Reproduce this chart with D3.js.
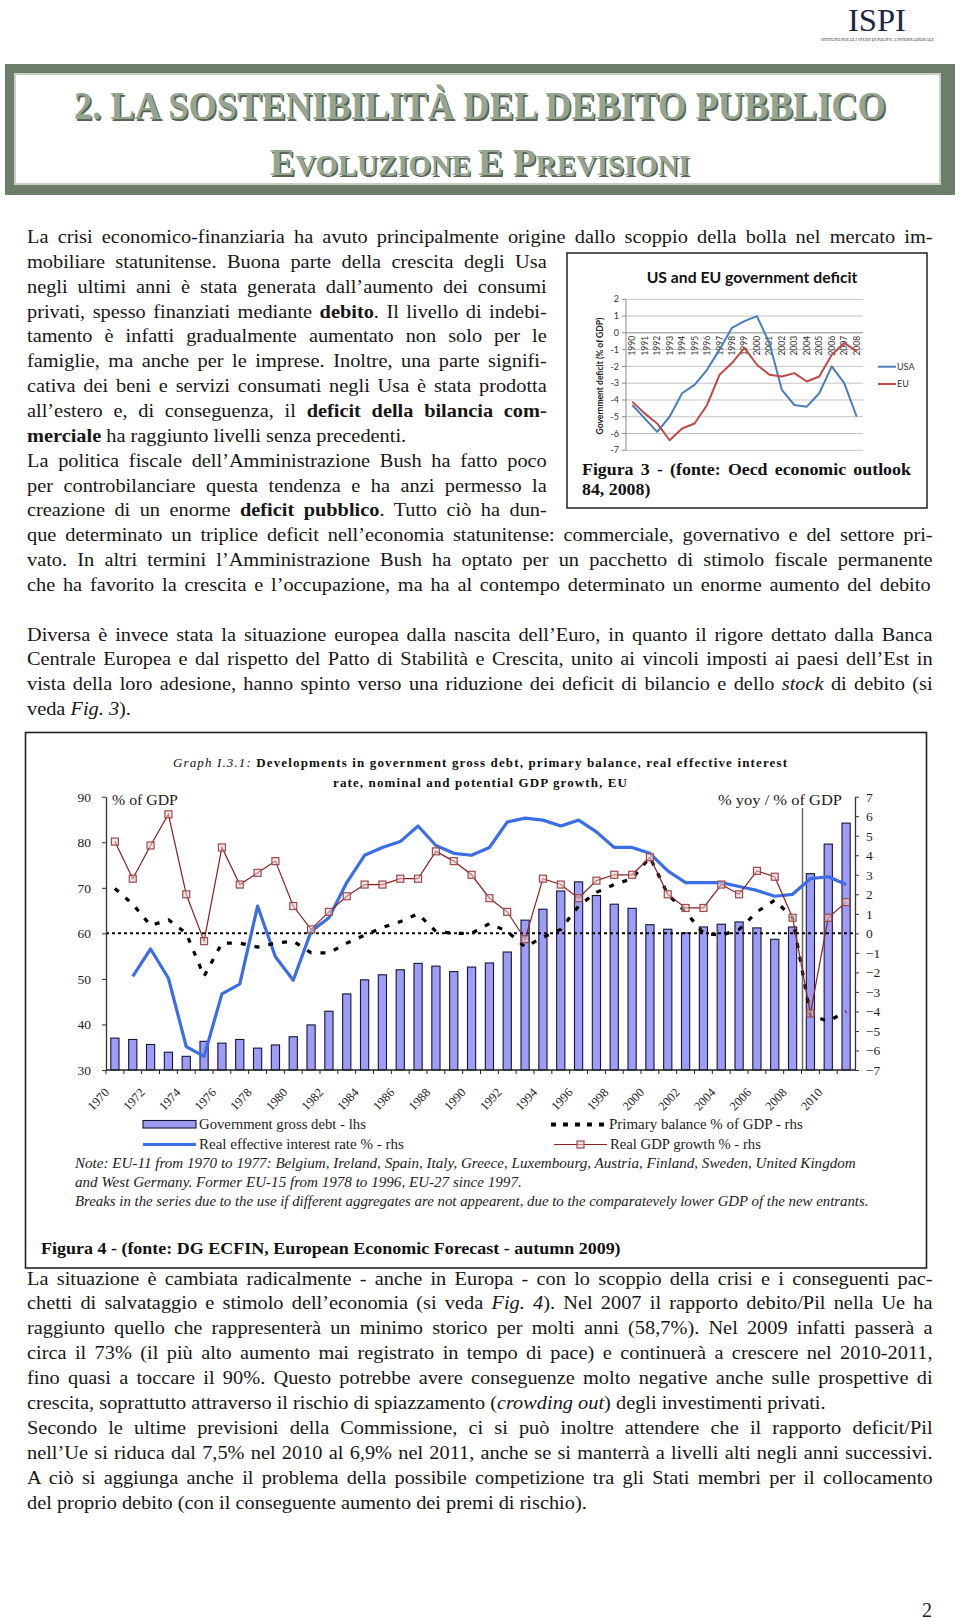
<!DOCTYPE html>
<html><head><meta charset="utf-8">
<script src="https://cdn.jsdelivr.net/npm/d3@7"></script>
<style>
html,body{margin:0;padding:0;background:#fff;}
svg{display:block;}
</style></head><body>
<svg id="page" width="960" height="1620"></svg>
<script>
// ================= Figure 3 data (US and EU government deficit) =================
const fig3Years = ["1990","1991","1992","1993","1994","1995","1996","1997","1998","1999","2000","2001","2002","2003","2004","2005","2006","2007","2008"];
const fig3USA = [-4.3,-5.1,-5.9,-5.0,-3.6,-3.1,-2.2,-1.0,0.3,0.7,1.0,-0.6,-3.4,-4.3,-4.4,-3.6,-2.0,-3.0,-5.0];
const fig3EU  = [-4.1,-4.8,-5.4,-6.4,-5.7,-5.4,-4.3,-2.5,-1.8,-0.9,-1.9,-2.5,-2.6,-2.4,-2.9,-2.6,-1.3,-0.6,-1.1];
const fig3YTicks = [2,1,0,-1,-2,-3,-4,-5,-6,-7];
const fig3SeriesNames = ["USA","EU"];

// ================= Figure 4 data (EU debt, primary balance, interest, growth) =================
const fig4Years = [1970,1971,1972,1973,1974,1975,1976,1977,1978,1979,1980,1981,1982,1983,1984,1985,1986,1987,1988,1989,1990,1991,1992,1993,1994,1995,1996,1997,1998,1999,2000,2001,2002,2003,2004,2005,2006,2007,2008,2009,2010,2011];
const fig4Debt = [37.0,36.7,35.6,33.9,33.0,36.3,35.9,36.7,34.8,35.5,37.3,39.9,42.9,46.7,49.8,50.9,52.0,53.4,52.8,51.6,52.6,53.5,55.9,62.9,65.3,69.3,71.3,68.3,66.4,65.5,61.9,60.9,60.1,61.4,62.0,62.5,61.2,58.7,61.4,73.1,79.6,84.2];
const fig4Interest = [null,-2.2,-0.8,-2.3,-5.8,-6.3,-3.1,-2.6,1.4,-1.2,-2.4,0.1,0.8,2.6,4.0,4.4,4.7,5.5,4.5,4.1,4.0,4.4,5.7,5.9,5.8,5.5,5.8,5.2,4.4,4.4,4.1,3.2,2.6,2.6,2.6,2.4,2.2,1.9,2.0,2.8,2.9,2.5];
const fig4Primary = [2.3,1.5,0.4,0.7,0.0,-2.2,-0.5,-0.5,-0.7,-0.5,-0.4,-1.0,-1.0,-0.5,-0.1,0.3,0.6,1.0,0.1,0.0,0.0,0.5,0.1,-0.7,-0.2,0.2,1.4,2.1,2.5,2.8,3.9,2.0,1.1,0.0,-0.1,0.2,1.1,1.7,0.8,-4.2,-4.5,-4.0];
const fig4Growth = [4.7,2.8,4.5,6.1,2.0,-0.4,4.4,2.5,3.1,3.7,1.4,0.2,1.1,1.9,2.5,2.5,2.8,2.8,4.2,3.7,3.0,1.8,1.1,-0.3,2.8,2.5,1.8,2.7,3.0,3.0,3.9,2.0,1.3,1.3,2.5,2.0,3.2,2.9,0.8,-4.1,0.8,1.6];
const fig4LeftTicks = [30,40,50,60,70,80,90];
const fig4RightTicks = [-7,-6,-5,-4,-3,-2,-1,0,1,2,3,4,5,6,7];
const fig4XLabels = [1970,1972,1974,1976,1978,1980,1982,1984,1986,1988,1990,1992,1994,1996,1998,2000,2002,2004,2006,2008,2010];
const fig4ForecastStart = 2009;
const fig4Legend = ["Government gross debt - lhs","Primary balance % of GDP - rhs","Real effective interest rate % - rhs","Real GDP growth % - rhs"];

// ================= Body text =================
const textTop = [
 [["La crisi economico-finanziaria ha avuto principalmente origine dallo scoppio della bolla nel mercato im-",""]],
 [["mobiliare statunitense. Buona parte della crescita degli Usa",""]],
 [["negli ultimi anni è stata generata dall’aumento dei consumi",""]],
 [["privati, spesso finanziati mediante ",""],["debito","b"],[". Il livello di indebi-",""]],
 [["tamento è infatti gradualmente aumentato non solo per le",""]],
 [["famiglie, ma anche per le imprese. Inoltre, una parte signifi-",""]],
 [["cativa dei beni e servizi consumati negli Usa è stata prodotta",""]],
 [["all’estero e, di conseguenza, il ",""],["deficit della bilancia com-","b"]],
 [["merciale","b"],[" ha raggiunto livelli senza precedenti.",""]],
 [["La politica fiscale dell’Amministrazione Bush ha fatto poco",""]],
 [["per controbilanciare questa tendenza e ha anzi permesso la",""]],
 [["creazione di un enorme ",""],["deficit pubblico","b"],[". Tutto ciò ha dun-",""]],
 [["que determinato un triplice deficit nell’economia statunitense: commerciale, governativo e del settore pri-",""]],
 [["vato. In altri termini l’Amministrazione Bush ha optato per un pacchetto di stimolo fiscale permanente",""]],
 [["che ha favorito la crescita e l’occupazione, ma ha al contempo determinato un enorme aumento del debito",""]],
 null,
 [["Diversa è invece stata la situazione europea dalla nascita dell’Euro, in quanto il rigore dettato dalla Banca",""]],
 [["Centrale Europea e dal rispetto del Patto di Stabilità e Crescita, unito ai vincoli imposti ai paesi dell’Est in",""]],
 [["vista della loro adesione, hanno spinto verso una riduzione dei deficit di bilancio e dello ",""],["stock","i"],[" di debito (si",""]],
 [["veda ",""],["Fig. 3","i"],[").",""]]
];
const textTopWidths = [906,520,520,520,520,520,520,520,0,520,520,520,906,906,904,0,906,906,906,0];

const textBottom = [
 [["La situazione è cambiata radicalmente - anche in Europa - con lo scoppio della crisi e i conseguenti pac-",""]],
 [["chetti di salvataggio e stimolo dell’economia (si veda ",""],["Fig. 4","i"],["). Nel 2007 il rapporto debito/Pil nella Ue ha",""]],
 [["raggiunto quello che rappresenterà un minimo storico per molti anni (58,7%). Nel 2009 infatti passerà a",""]],
 [["circa il 73% (il più alto aumento mai registrato in tempo di pace) e continuerà a crescere nel 2010-2011,",""]],
 [["fino quasi a toccare il 90%. Questo potrebbe avere conseguenze molto negative anche sulle prospettive di",""]],
 [["crescita, soprattutto attraverso il rischio di spiazzamento (",""],["crowding out","i"],[") degli investimenti privati.",""]],
 [["Secondo le ultime previsioni della Commissione, ci si può inoltre attendere che il rapporto deficit/Pil",""]],
 [["nell’Ue si riduca dal 7,5% nel 2010 al 6,9% nel 2011, anche se si manterrà a livelli alti negli anni successivi.",""]],
 [["A ciò si aggiunga anche il problema della possibile competizione tra gli Stati membri per il collocamento",""]],
 [["del proprio debito (con il conseguente aumento dei premi di rischio).",""]]
];
const textBottomWidths = [906,906,906,906,906,0,906,906,906,0];

const SERIF = '"Liberation Serif","Times New Roman",serif';
const SANS = 'Lato,"Open Sans","Liberation Sans",sans-serif';
const svg = d3.select('#page');

// Draws one line of text at (x,y). o.width: target width; o.justify: stretch spaces;
// o.sx: base horizontal glyph scale. Text wider than target is scaled down horizontally.
function textLine(g, x, y, segs, o) {
  const t = g.append('text').attr('x', 0).attr('y', 0)
    .attr('font-family', o.family || SERIF).attr('font-size', o.size)
    .attr('fill', o.fill || '#1a1a1a');
  if (o.weight) t.attr('font-weight', o.weight);
  if (o.style) t.attr('font-style', o.style);
  if (o.anchor) t.attr('text-anchor', o.anchor);
  segs.forEach(([s, st]) => {
    const ts = t.append('tspan').text(s);
    if (st.includes('b')) ts.attr('font-weight', 'bold');
    if (st.includes('i')) ts.attr('font-style', 'italic');
    if (st.includes('s')) ts.attr('font-size', o.small);
  });
  let sx = o.sx || 1;
  const nat = t.node().getComputedTextLength();
  if (o.width) {
    const spaces = (segs.map(s => s[0]).join('').match(/ /g) || []).length;
    if (o.justify && nat * sx < o.width && spaces) {
      t.style('word-spacing', ((o.width / sx - nat) / spaces) + 'px');
    } else {
      sx = o.width / nat;
    }
  }
  t.attr('transform', `translate(${x},${y})${o.rotate ? ' rotate(' + o.rotate + ')' : ''} scale(${sx},1)`);
  return t;
}

// ================= Header =================
const hdr = svg.append('g');
hdr.append('rect').attr('x', 5).attr('y', 64).attr('width', 950).attr('height', 131).attr('fill', '#6c7d69');
hdr.append('rect').attr('x', 15).attr('y', 74).attr('width', 925).attr('height', 110)
  .attr('fill', '#fff').attr('stroke', '#c8d0c6').attr('stroke-width', 2);
[[1.6, 1.6, '#566552'], [0, 0, '#95a591']].forEach(([dx, dy, col]) => {
  textLine(hdr, 74 + dx, 119 + dy, [["2. LA SOSTENIBILITÀ DEL DEBITO PUBBLICO", ""]],
    {size: 39, weight: 'bold', fill: col, width: 812});
  textLine(hdr, 270 + dx, 175 + dy, [["E", ""], ["VOLUZIONE ", "s"], ["E ", ""], ["P", ""], ["REVISIONI", "s"]],
    {size: 38, small: 29, weight: 'bold', fill: col, width: 420});
});
// ISPI logo
textLine(svg, 848, 30.5, [["ISPI", ""]], {size: 32, fill: '#1f2545', width: 58});
textLine(svg, 821, 40.5, [["ISTITUTO PER GLI STUDI DI POLITICA INTERNAZIONALE", ""]], {size: 3.6, fill: '#1f2545', width: 113});

// ================= Body text =================
const body = svg.append('g');
const BODY = {size: 18.5, sx: 1.1, justify: 1, fill: '#161616'};
textTop.forEach((segs, i) => {
  if (!segs) return;
  textLine(body, 27, 243 + i * 24.85, segs, Object.assign({}, BODY, {width: textTopWidths[i]}));
});
textBottom.forEach((segs, i) => {
  textLine(body, 27, 1284.5 + i * 24.9, segs, Object.assign({}, BODY, {width: textBottomWidths[i]}));
});
textLine(svg, 922, 1617, [["2", ""]], {size: 20, fill: '#222'});

// ================= Figure 3 =================
const f3 = svg.append('g');
f3.append('rect').attr('x', 567).attr('y', 253).attr('width', 360).attr('height', 255)
  .attr('fill', '#fff').attr('stroke', '#222').attr('stroke-width', 1.5);
textLine(f3, 752, 283, [["US and EU government deficit", ""]], {family: SANS, size: 14.5, weight: 'bold', anchor: 'middle', fill: '#111', width: 211});
const x3 = d3.scalePoint().domain(fig3Years).range([632.2, 856.7]);
const y3 = d3.scaleLinear().domain([-7, 2]).range([450.3, 299.3]);
f3.append('g').selectAll('line').data(fig3YTicks).join('line')
  .attr('x1', 626).attr('x2', 863).attr('y1', d => y3(d)).attr('y2', d => y3(d))
  .attr('stroke', d => d === 0 ? '#8a8a8a' : '#c4c4c4').attr('stroke-width', 1);
f3.append('line').attr('x1', 626).attr('x2', 626).attr('y1', y3(2)).attr('y2', y3(-7)).attr('stroke', '#8a8a8a');
f3.append('g').selectAll('line').data(fig3YTicks).join('line')
  .attr('x1', 622).attr('x2', 626).attr('y1', d => y3(d)).attr('y2', d => y3(d)).attr('stroke', '#8a8a8a');
f3.append('g').selectAll('text').data(fig3YTicks).join('text')
  .attr('x', 619).attr('y', d => y3(d)).attr('dy', '0.35em').attr('text-anchor', 'end')
  .attr('font-family', SANS).attr('font-size', 9).attr('fill', '#333').text(d => d);
f3.append('g').selectAll('text').data(fig3Years).join('text')
  .attr('transform', d => `translate(${x3(d) + 3},${y3(0) + 3}) rotate(-90)`)
  .attr('text-anchor', 'end').attr('font-family', SANS).attr('font-size', 8.5).attr('fill', '#333').text(d => d);
textLine(f3, 603, 376, [["Government deficit (% of GDP)", ""]], {family: SANS, size: 8.5, weight: 'bold', anchor: 'middle', fill: '#222', width: 117, rotate: -90});
const line3 = d3.line().x((d, i) => x3(fig3Years[i])).y(d => y3(d));
const f3cols = ['#4a7ebb', '#be4b48'];
[fig3USA, fig3EU].forEach((s, k) => {
  f3.append('path').attr('d', line3(s)).attr('fill', 'none').attr('stroke', f3cols[k]).attr('stroke-width', 2).attr('stroke-linejoin', 'round');
});
fig3SeriesNames.forEach((n, k) => {
  const yy = 366.7 + k * 17.3;
  f3.append('line').attr('x1', 878).attr('x2', 896).attr('y1', yy).attr('y2', yy).attr('stroke', f3cols[k]).attr('stroke-width', 2);
  f3.append('text').attr('x', 897).attr('y', yy).attr('dy', '0.35em').attr('font-family', SANS).attr('font-size', 9).attr('fill', '#333').text(n);
});
textLine(f3, 582, 475, [["Figura 3 - (fonte: Oecd economic outlook", ""]], {size: 17, sx: 1.05, weight: 'bold', fill: '#111', width: 329, justify: 1});
textLine(f3, 582, 495, [["84, 2008)", ""]], {size: 17, sx: 1.05, weight: 'bold', fill: '#111'});

// ================= Figure 4 =================
const f4 = svg.append('g');
f4.append('rect').attr('x', 25.5).attr('y', 732.5).attr('width', 901).attr('height', 535.5)
  .attr('fill', '#fff').attr('stroke', '#222').attr('stroke-width', 1.6);
const t1 = f4.append('text').attr('x', 173).attr('y', 767).attr('font-family', SERIF).attr('font-size', 13).attr('fill', '#111');
t1.append('tspan').attr('font-style', 'italic').text('Graph I.3.1:');
t1.append('tspan').attr('font-weight', 'bold').text(' Developments in government gross debt, primary balance, real effective interest');
t1.attr('textLength', 614).attr('lengthAdjust', 'spacing');
f4.append('text').attr('x', 333).attr('y', 787).attr('font-family', SERIF).attr('font-size', 13).attr('font-weight', 'bold').attr('fill', '#111')
  .attr('textLength', 294).attr('lengthAdjust', 'spacing').text('rate, nominal and potential GDP growth, EU');

const X0 = 106, X1 = 855, YB = 1070, YT = 796.7;
const fx = d3.scaleBand().domain(fig4Years).range([X0, X1]);
const cx = d => fx(d) + fx.bandwidth() / 2;
const yL = d3.scaleLinear().domain([30, 90]).range([YB, YT]);
const yR = d3.scaleLinear().domain([-7, 7]).range([YB, YT]);
const bw = fx.bandwidth() * 0.46;

// bars
f4.append('g').selectAll('rect').data(fig4Debt).join('rect')
  .attr('x', (d, i) => cx(fig4Years[i]) - bw / 2).attr('y', d => yL(d))
  .attr('width', bw).attr('height', d => YB - yL(d))
  .attr('fill', '#9d9df5').attr('stroke', '#15153a').attr('stroke-width', 1.1);

// forecast separator
f4.append('line').attr('x1', fx(fig4ForecastStart) + 1).attr('x2', fx(fig4ForecastStart) + 1)
  .attr('y1', 808).attr('y2', YB).attr('stroke', '#6a6a6a').attr('stroke-width', 1.5);

// zero line (rhs)
f4.append('line').attr('x1', X0).attr('x2', X1).attr('y1', yR(0)).attr('y2', yR(0))
  .attr('stroke', '#000').attr('stroke-width', 2).attr('stroke-dasharray', '3,3');

// axes
const axL = f4.append('g').attr('transform', `translate(${X0},0)`)
  .call(d3.axisLeft(yL).tickValues(fig4LeftTicks).tickSize(4).tickSizeOuter(0).tickPadding(11));
const axR = f4.append('g').attr('transform', `translate(${X1},0)`)
  .call(d3.axisRight(yR).tickValues(fig4RightTicks).tickSize(4).tickSizeOuter(0).tickPadding(7));
[axL, axR].forEach(a => {
  a.selectAll('text').attr('font-family', SERIF).attr('font-size', 13.5).attr('fill', '#222');
  a.selectAll('line').attr('stroke', '#333');
  a.select('.domain').attr('stroke', '#333').attr('stroke-width', 1.3);
});
// bottom axis
f4.append('line').attr('x1', X0).attr('x2', X1).attr('y1', YB).attr('y2', YB).attr('stroke', '#222').attr('stroke-width', 1.3);
f4.append('g').selectAll('line').data(fig4Years).join('line')
  .attr('x1', d => fx(d)).attr('x2', d => fx(d)).attr('y1', YB).attr('y2', YB + 4).attr('stroke', '#222');
f4.append('g').selectAll('text').data(fig4XLabels).join('text')
  .attr('transform', d => `translate(${cx(d) - 5},${YB + 23}) rotate(-47)`)
  .attr('text-anchor', 'end').attr('font-family', SERIF).attr('font-size', 12.5).attr('fill', '#222').text(d => d);

// axis titles
textLine(f4, 112, 805, [["% of GDP", ""]], {size: 15, fill: '#222', width: 66});
textLine(f4, 718, 805, [["% yoy / % of GDP", ""]], {size: 15, fill: '#222', width: 124});

// lines
const lineR = d3.line().defined(d => d != null).x((d, i) => cx(fig4Years[i])).y(d => yR(d));
f4.append('path').attr('d', lineR(fig4Interest)).attr('fill', 'none').attr('stroke', '#3b6ee6').attr('stroke-width', 3.2).attr('stroke-linejoin', 'round');
f4.append('path').attr('d', lineR(fig4Primary)).attr('fill', 'none').attr('stroke', '#000').attr('stroke-width', 3.2).attr('stroke-dasharray', '5,9');
f4.append('path').attr('d', lineR(fig4Growth)).attr('fill', 'none').attr('stroke', '#8a2020').attr('stroke-width', 1.2);
f4.append('g').selectAll('rect').data(fig4Growth).join('rect')
  .attr('x', (d, i) => cx(fig4Years[i]) - 3.5).attr('y', d => yR(d) - 3.5)
  .attr('width', 7).attr('height', 7)
  .attr('fill', 'rgba(238,205,205,0.55)').attr('stroke', '#9a4c4c').attr('stroke-width', 1.2);

// legend
const lg = f4.append('g');
lg.append('rect').attr('x', 143).attr('y', 1120.5).attr('width', 53).attr('height', 7.5)
  .attr('fill', '#9d9df5').attr('stroke', '#15153a').attr('stroke-width', 1.1);
textLine(lg, 199, 1129, [[fig4Legend[0], ""]], {size: 15, fill: '#222', width: 167});
lg.append('line').attr('x1', 551).attr('x2', 607).attr('y1', 1124.5).attr('y2', 1124.5)
  .attr('stroke', '#000').attr('stroke-width', 4).attr('stroke-dasharray', '5,7');
textLine(lg, 609, 1129, [[fig4Legend[1], ""]], {size: 15, fill: '#222', width: 194});
lg.append('line').attr('x1', 143).attr('x2', 196).attr('y1', 1144.5).attr('y2', 1144.5)
  .attr('stroke', '#3b6ee6').attr('stroke-width', 3.2);
textLine(lg, 199, 1149, [[fig4Legend[2], ""]], {size: 15, fill: '#222', width: 205});
lg.append('line').attr('x1', 554).attr('x2', 607).attr('y1', 1144.5).attr('y2', 1144.5)
  .attr('stroke', '#8a2020').attr('stroke-width', 1.2);
lg.append('rect').attr('x', 577).attr('y', 1141).attr('width', 7).attr('height', 7)
  .attr('fill', 'rgba(238,205,205,0.55)').attr('stroke', '#9a4c4c').attr('stroke-width', 1.2);
textLine(lg, 610, 1149, [[fig4Legend[3], ""]], {size: 15, fill: '#222', width: 151});

// notes
const notes = [
  "Note: EU-11 from 1970 to 1977: Belgium, Ireland, Spain, Italy, Greece, Luxembourg, Austria, Finland, Sweden, United Kingdom",
  "and West Germany. Former EU-15 from 1978 to 1996, EU-27 since 1997.",
  "Breaks in the series due to the use if different aggregates are not appearent, due to the comparatevely lower GDP of the new entrants."
];
const noteW = [781, 447, 794];
notes.forEach((n, i) => textLine(f4, 75, 1168 + i * 19, [[n, ""]], {size: 14.5, style: 'italic', fill: '#222', width: noteW[i]}));
textLine(f4, 41, 1254, [["Figura 4 - (fonte: DG ECFIN, European Economic Forecast - autumn 2009)", ""]], {size: 16.5, weight: 'bold', fill: '#111', width: 580});
</script>
</body></html>
